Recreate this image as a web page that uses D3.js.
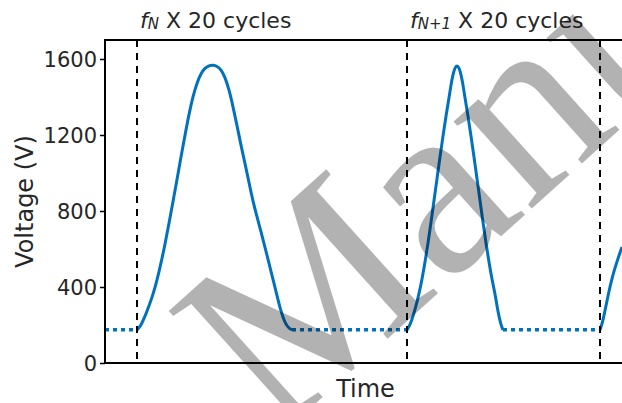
<!DOCTYPE html>
<html>
<head>
    <title>Voltage pulses</title>
    <script src="https://d3js.org/d3.v7.min.js"></script>
    <style>
        body {
            margin: 0;
            padding: 0;
            background: #fff;
        }
        svg text {
            font-family: "DejaVu Sans", sans-serif;
            fill: #262626;
        }
        .tick text {
            font-size: 21px;
        }
        .pulse {
            fill: none;
            stroke: #0072bd;
            stroke-width: 3px;
        }
        .idle {
            fill: none;
            stroke: #0072bd;
            stroke-width: 3.5px;
            stroke-dasharray: 4 4;
        }
        .marker {
            stroke: #000;
            stroke-width: 2px;
            stroke-dasharray: 7 6;
        }
        .spine {
            stroke: #000;
            stroke-width: 2px;
        }
    </style>
</head>
<body>
    <div id="chart"></div>
    <script>
        // time in arbitrary units, voltage in V
        const pulse1 = [
            [32, 174], [36, 198], [40, 245], [44, 300], [48, 360], [52, 435],
            [56, 525], [60, 625], [64, 735], [68, 850], [72, 965], [76, 1085],
            [80, 1200], [84, 1310], [88, 1405], [92, 1475], [96, 1525],
            [100, 1553], [104, 1566], [108, 1568], [112, 1563], [116, 1545],
            [120, 1505], [124, 1440], [128, 1350], [132, 1250], [136, 1145],
            [140, 1050], [144, 950], [148, 850], [152, 770], [156, 690],
            [160, 610], [164, 525], [168, 440], [172, 355], [176, 270],
            [180, 210], [184, 182], [187, 174]
        ];
        const pulse2 = [
            [302, 174], [305, 200], [308, 245], [311, 300], [314, 365],
            [317, 440], [320, 530], [323, 630], [326, 740], [329, 855],
            [332, 970], [335, 1085], [338, 1195], [341, 1300], [344, 1395],
            [346, 1465], [348, 1520], [350, 1555], [352, 1568], [354, 1555],
            [356, 1520], [358, 1465], [360, 1395], [363, 1300], [366, 1195],
            [369, 1085], [372, 970], [375, 855], [378, 740], [381, 630],
            [384, 530], [387, 440], [390, 365], [392, 300], [394, 245],
            [396, 200], [398, 174]
        ];
        const pulse3 = [[495, 174], [498, 220], [502, 330], [508, 474], [517, 611]];
        const pulses = [pulse1, pulse2, pulse3];

        const baseline = 175;
        const idleSpans = [[0, 32], [187, 302], [398, 495]];
        const markerTimes = [32, 302, 495];
        const titleSubs = ["N", "N+1"];
        const yTicks = [0, 400, 800, 1200, 1600];

        const width = 622;
        const height = 403;
        const margin = { top: 40, right: 0, bottom: 40, left: 105 };

        const svg = d3.select("#chart")
            .append("svg")
            .attr("width", width)
            .attr("height", height);

        const x = d3.scaleLinear()
            .domain([0, 517])
            .range([margin.left, width - margin.right]);

        const y = d3.scaleLinear()
            .domain([0, 1700])
            .range([height - margin.bottom, margin.top]);

        svg.append("clipPath")
            .attr("id", "plot-clip")
            .append("rect")
            .attr("x", margin.left)
            .attr("y", margin.top)
            .attr("width", width - margin.left - margin.right)
            .attr("height", height - margin.top - margin.bottom);

        const plot = svg.append("g").attr("clip-path", "url(#plot-clip)");

        // idle baseline (dotted)
        plot.selectAll(".idle")
            .data(idleSpans)
            .enter()
            .append("line")
            .attr("class", "idle")
            .attr("x1", d => x(d[0]))
            .attr("x2", d => x(d[1]))
            .attr("y1", y(baseline))
            .attr("y2", y(baseline));

        // the pulses
        const line = d3.line()
            .x(d => x(d[0]))
            .y(d => y(d[1]))
            .curve(d3.curveBasis);

        plot.selectAll(".pulse")
            .data(pulses)
            .enter()
            .append("path")
            .attr("class", "pulse")
            .attr("d", line);

        // dashed markers at each frequency change
        svg.selectAll(".marker")
            .data(markerTimes)
            .enter()
            .append("line")
            .attr("class", "marker")
            .attr("x1", d => x(d))
            .attr("x2", d => x(d))
            .attr("y1", y.range()[1])
            .attr("y2", y.range()[0]);

        // spines
        svg.append("line").attr("class", "spine")
            .attr("x1", margin.left).attr("x2", margin.left)
            .attr("y1", margin.top - 1).attr("y2", height - margin.bottom + 1);
        svg.append("line").attr("class", "spine")
            .attr("x1", margin.left - 1).attr("x2", width)
            .attr("y1", height - margin.bottom).attr("y2", height - margin.bottom);
        svg.append("line").attr("class", "spine")
            .attr("x1", margin.left - 1).attr("x2", width)
            .attr("y1", margin.top).attr("y2", margin.top);

        // y axis
        const yAxis = svg.append("g")
            .attr("transform", `translate(${margin.left},0)`)
            .call(d3.axisLeft(y).tickValues(yTicks).tickFormat(d3.format("d"))
                .tickSize(5).tickPadding(3));
        yAxis.select(".domain").remove();
        yAxis.selectAll(".tick line").attr("stroke", "#000").attr("stroke-width", 1.5);
        yAxis.selectAll(".tick text").attr("fill", "#262626").attr("dy", "0.36em");

        // axis labels
        svg.append("text")
            .attr("transform", `translate(33,${(margin.top + height - margin.bottom) / 2}) rotate(-90)`)
            .attr("text-anchor", "middle")
            .style("font-size", "24px")
            .text("Voltage (V)");

        svg.append("text")
            .attr("x", (margin.left + width) / 2 + 2)
            .attr("y", 397)
            .attr("text-anchor", "middle")
            .style("font-size", "24px")
            .text("Time");

        // titles above the first two blocks
        const titles = svg.selectAll(".block-title")
            .data(titleSubs)
            .enter()
            .append("text")
            .attr("class", "block-title")
            .attr("x", (d, i) => x(markerTimes[i]) + 3)
            .attr("y", 28)
            .style("font-size", "22px");
        titles.append("tspan")
            .style("font-style", "italic")
            .text("f");
        titles.append("tspan")
            .style("font-style", "italic")
            .style("font-size", "15px")
            .attr("dy", 1)
            .text(d => d);
        titles.append("tspan")
            .attr("dy", -1)
            .text(" X 20 cycles");

        // watermark
        svg.append("text")
            .attr("transform", "translate(275,440) rotate(-42)")
            .style("font-family", "'Liberation Serif', serif")
            .style("font-size", "255px")
            .style("fill", "#000")
            .style("fill-opacity", 0.3)
            .text("Manu");
    </script>
</body>
</html>
